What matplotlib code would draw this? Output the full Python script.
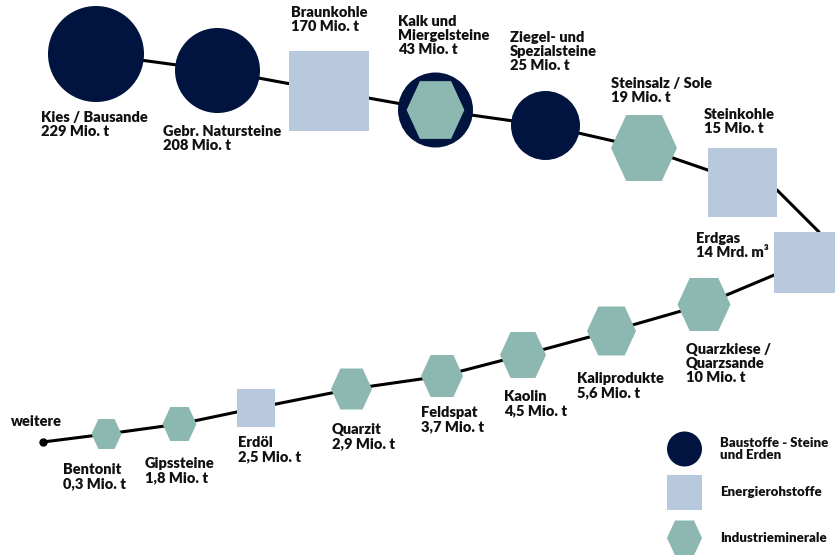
import matplotlib.pyplot as plt
from matplotlib.patches import Circle, Rectangle, Polygon

# data
names = ["Kies / Bausande", "Gebr. Natursteine", "Braunkohle", "Kalk und\nMiergelsteine",
         "Ziegel- und\nSpezialsteine", "Steinsalz / Sole", "Steinkohle", "Erdgas",
         "Quarzkiese /\nQuarzsande", "Kaliprodukte", "Kaolin", "Feldspat", "Quarzit",
         "Erdöl", "Gipssteine", "Bentonit"]
values = [229, 208, 170, 43, 25, 19, 15, 14, 10, 5.6, 4.5, 3.7, 2.9, 2.5, 1.8, 0.3]
units = ["Mio. t"] * 7 + ["Mrd. m³"] + ["Mio. t"] * 8
categories = ["bau", "bau", "energie", "bau+ind", "bau", "ind", "energie", "energie",
              "ind", "ind", "ind", "ind", "ind", "energie", "ind", "ind"]
legend_labels = ["Baustoffe - Steine\nund Erden", "Energierohstoffe", "Industrieminerale"]
legend_cats = ["bau", "energie", "ind"]

# layout (pixels)
cx = [96, 217.5, 329, 435.5, 545.5, 644, 742.5, 804, 704, 611.5, 523, 442, 351.5, 256, 179.5, 106.5]
cy = [54, 70.5, 91, 110, 125.5, 148, 182, 262.5, 304.5, 331, 355, 376, 389, 408, 424, 434]
size = [96, 85, 80, 75, 69, 66, 69, 61, 53, 49, 46, 42, 41, 38, 34, 30]
lab_x = [41, 163, 291, 398, 510, 611, 704, 696, 686, 577, 504, 421, 332, 238, 145, 63]
lab_y = [111, 125, 6, 15, 31, 77, 108, 232, 343, 372, 390, 406, 423, 436, 457, 463]

navy = "#00143f"
blue = "#b8c9de"
teal = "#8db8b1"
FONT = "Lato"
W = "heavy"


def hexagon(x, y, w, h, color):
    pts = [(x - w / 2, y), (x - 0.27 * w, y - h / 2), (x + 0.27 * w, y - h / 2),
           (x + w / 2, y), (x + 0.27 * w, y + h / 2), (x - 0.27 * w, y + h / 2)]
    return Polygon(pts, closed=True, facecolor=color, edgecolor="none", zorder=3)


def shape(ax, cat, x, y, s):
    if cat == "bau":
        ax.add_patch(Circle((x, y), s / 2, facecolor=navy, edgecolor="none", zorder=3))
    elif cat == "energie":
        ax.add_patch(Rectangle((x - s / 2, y - s / 2), s, s, facecolor=blue, edgecolor="none", zorder=3))
    elif cat == "ind":
        ax.add_patch(hexagon(x, y, s, s, teal))
    else:
        ax.add_patch(Circle((x, y), s / 2, facecolor=navy, edgecolor="none", zorder=3))
        ax.add_patch(hexagon(x, y, s * 0.77, s * 0.77, teal))


fig = plt.figure(figsize=(8.35, 5.55), dpi=100)
ax = fig.add_axes([0, 0, 1, 1])
ax.set_xlim(0, 835)
ax.set_ylim(555, 0)
ax.axis("off")

# connecting line
px = cx[:7] + [777, 819] + cx[7:] + [43]
py = cy[:7] + [190, 232] + cy[7:] + [442]
ax.plot(px, py, color="black", lw=2.2, zorder=1, solid_capstyle="butt")
ax.plot([43], [442], "o", color="black", ms=5, zorder=2)
ax.text(11, 415, "weitere", fontsize=10.5, fontweight=W, family=FONT, va="top", color="#111111")

for i in range(len(names)):
    shape(ax, categories[i], cx[i], cy[i], size[i])
    v = ("%g" % values[i]).replace(".", ",")
    ax.text(lab_x[i], lab_y[i], names[i] + "\n" + v + " " + units[i], fontsize=10.5,
            fontweight=W, family=FONT, va="top", ha="left",
            linespacing=1.1, color="#111111")

# legend
leg_y = [449, 492, 538]
for cat, ly, lab in zip(legend_cats, leg_y, legend_labels):
    shape(ax, cat, 684.5, ly, 35)
    ax.text(720, ly, lab, fontsize=9.5, fontweight=W, family=FONT, va="center",
            ha="left", linespacing=1.0, color="#111111")

fig.savefig("out.png", dpi=100)
